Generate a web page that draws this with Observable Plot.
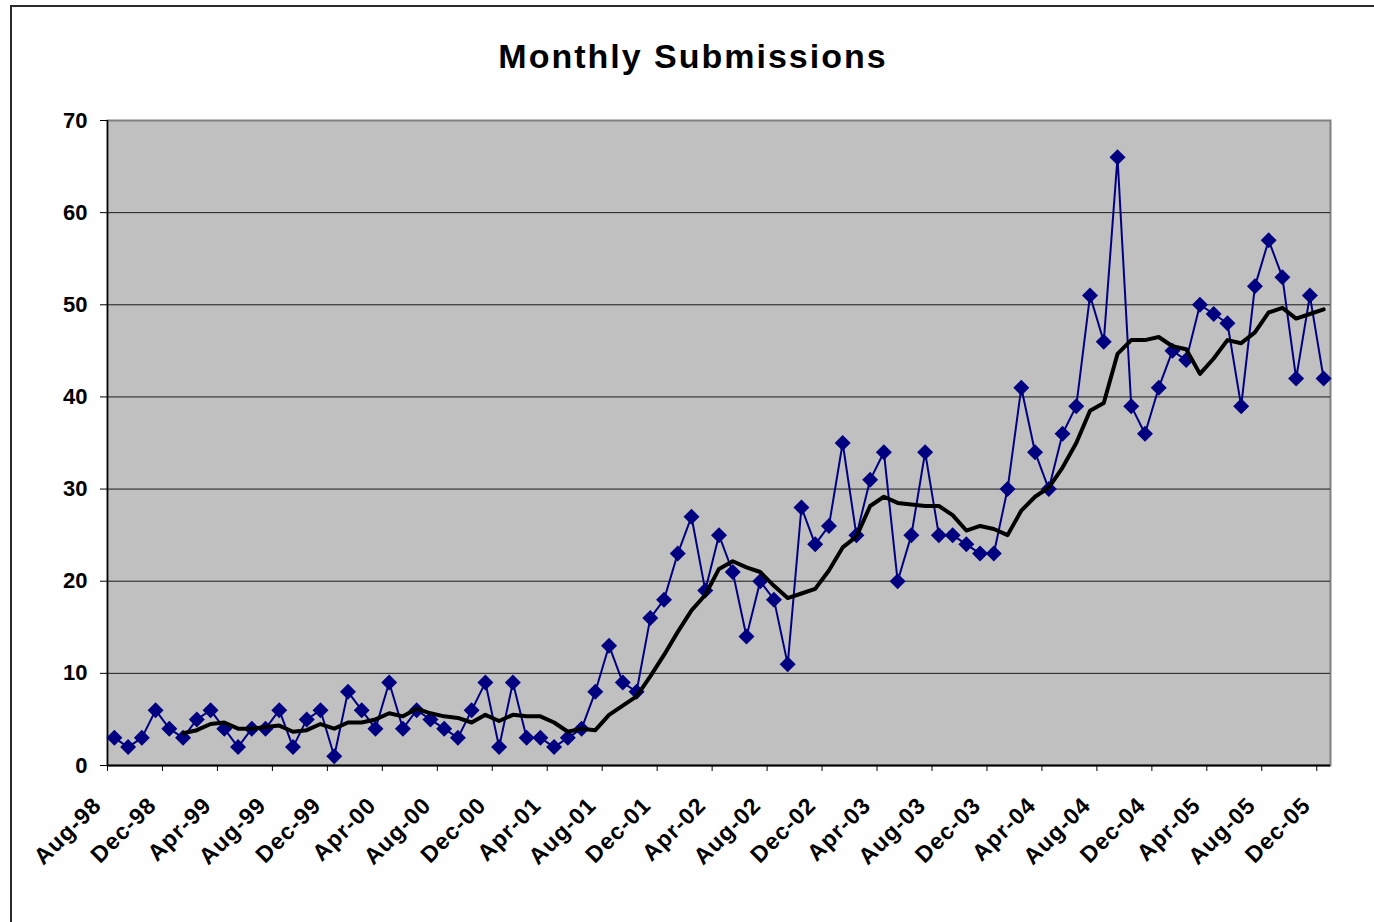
<!DOCTYPE html>
<html>
<head>
<meta charset="utf-8">
<script src="https://cdn.jsdelivr.net/npm/d3@7"></script>
<script src="https://cdn.jsdelivr.net/npm/@observablehq/plot@0.6"></script>
<style>
  html, body { margin: 0; padding: 0; background: #fff; }
  #wrap { position: relative; width: 1374px; height: 922px; overflow: hidden; background: #fff; }
  #border { position: absolute; left: 10px; top: 5px; width: 1400px; height: 960px; border: 2px solid #2a2a2a; box-sizing: border-box; }
  #title { position: absolute; left: 0; top: 37px; width: 1386px; text-align: center;
           font: 700 34px "Liberation Sans", Arial, sans-serif; letter-spacing: 2px; color: #000; }
  #chart { position: absolute; left: 0; top: 0; }
  #chart g[aria-label="x-axis tick label"] text { letter-spacing: 1px; }
</style>
</head>
<body>
<div id="wrap">
  <div id="border"></div>
  <div id="title">Monthly Submissions</div>
  <div id="chart"></div>
</div>
<script>
// Monthly submissions, Aug-98 .. Dec-05 (one value per month)
const submissions = [
  3,2,3,6,4,3,5,6,4,2,
  4,4,6,2,5,6,1,8,6,4,
  9,4,6,5,4,3,6,9,2,9,
  3,3,2,3,4,8,13,9,8,16,
  18,23,27,19,25,21,14,20,18,11,
  28,24,26,35,25,31,34,20,25,34,
  25,25,24,23,23,30,41,34,30,36,
  39,51,46,66,39,36,41,45,44,50,
  49,48,39,52,57,53,42,51,42
];
// Category axis labels, every 4th month
const tickLabels = ["Aug-98","Dec-98","Apr-99","Aug-99","Dec-99","Apr-00","Aug-00","Dec-00",
  "Apr-01","Aug-01","Dec-01","Apr-02","Aug-02","Dec-02","Apr-03","Aug-03","Dec-03",
  "Apr-04","Aug-04","Dec-04","Apr-05","Aug-05","Dec-05"];
const yTicks = [0,10,20,30,40,50,60,70];
const gridValues = [10,20,30,40,50,60];
const movingAvgPeriod = 6;

const data = submissions.map((v, i) => ({i, v}));
const xTicks = tickLabels.map((_, k) => 4 * k - 0.5);
const fmtX = t => tickLabels[Math.round((t + 0.5) / 4)];

const chart = Plot.plot({
  width: 1374,
  height: 922,
  marginLeft: 107,
  marginRight: 44,
  marginTop: 120,
  marginBottom: 157,
  style: {fontFamily: '"Liberation Sans", Arial, sans-serif', color: "#000", background: "transparent"},
  x: {type: "linear", domain: [-0.5, submissions.length - 0.5]},
  y: {domain: [0, 70]},
  marks: [
    Plot.frame({fill: "#c0c0c0", stroke: "#808080", strokeWidth: 2}),
    Plot.ruleY(gridValues, {stroke: "#1a1a1a", strokeWidth: 1}),
    Plot.ruleX([-0.5], {stroke: "#000", strokeWidth: 1.5}),
    Plot.ruleY([0], {stroke: "#000", strokeWidth: 2}),
    Plot.axisY({ticks: yTicks, tickSize: 7, tickPadding: 13, fontSize: 22, fontWeight: "bold", label: null, stroke: "#000"}),
    // tick marks only
    Plot.axisX({ticks: xTicks, tickFormat: () => "", tickSize: 6, label: null, stroke: "#000"}),
    // rotated labels only
    Plot.axisX({ticks: xTicks, tickFormat: fmtX, tickSize: 0, tickRotate: -45, tickPadding: 36, dx: -10, fontSize: 23, fontWeight: "bold", label: null}),
    Plot.lineY(data, {x: "i", y: "v", stroke: "#000080", strokeWidth: 2}),
    Plot.dot(data, {x: "i", y: "v", symbol: "diamond2", r: 7.2, fill: "#000080", stroke: "none"}),
    Plot.lineY(data, Plot.windowY({k: movingAvgPeriod, anchor: "end", strict: true, reduce: "mean"},
      {x: "i", y: "v", stroke: "#000", strokeWidth: 4}))
  ]
});
document.getElementById("chart").appendChild(chart);
</script>
</body>
</html>
